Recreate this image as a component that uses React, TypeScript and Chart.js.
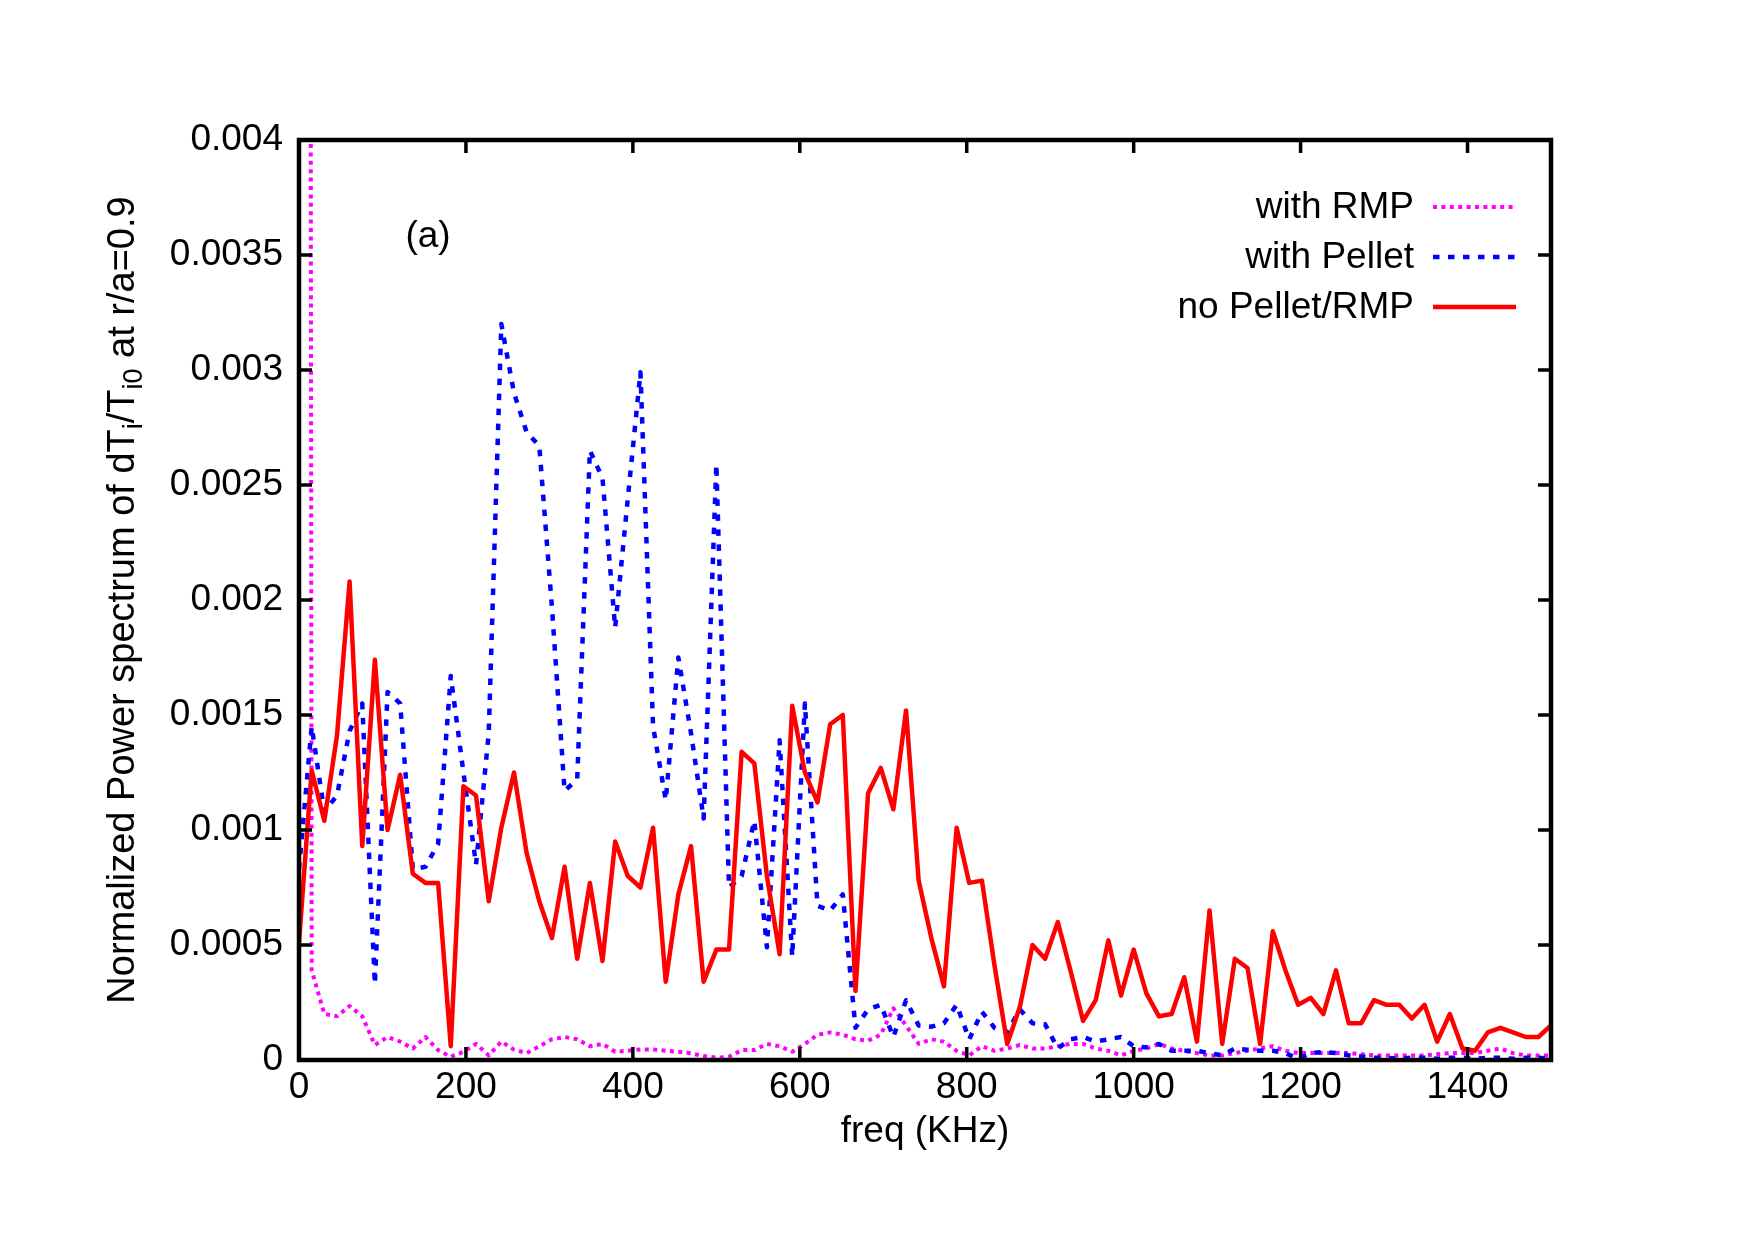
import React, { useEffect, useRef } from 'react';
import { Chart, registerables } from 'chart.js';

Chart.register(...registerables);

// ---------- data ----------
const freq = [
  0, 15.2, 30.3, 45.5, 60.6, 75.8, 90.9, 106.1, 121.2, 136.4,
  151.5, 166.7, 181.8, 197.0, 212.1, 227.3, 242.4, 257.6, 272.7, 287.9,
  303.0, 318.2, 333.3, 348.5, 363.6, 378.8, 393.9, 409.1, 424.2, 439.4,
  454.5, 469.7, 484.8, 500.0, 515.2, 530.3, 545.5, 560.6, 575.8, 590.9,
  606.1, 621.2, 636.4, 651.5, 666.7, 681.8, 697.0, 712.1, 727.3, 742.4,
  757.6, 772.7, 787.9, 803.0, 818.2, 833.3, 848.5, 863.6, 878.8, 893.9,
  909.1, 924.2, 939.4, 954.5, 969.7, 984.8, 1000.0, 1015.2, 1030.3, 1045.5,
  1060.6, 1075.8, 1090.9, 1106.1, 1121.2, 1136.4, 1151.5, 1166.7, 1181.8, 1197.0,
  1212.1, 1227.3, 1242.4, 1257.6, 1272.7, 1287.9, 1303.0, 1318.2, 1333.3, 1348.5,
  1363.6, 1378.8, 1393.9, 1409.1, 1424.2, 1439.4, 1454.5, 1469.7, 1484.8, 1500.0,
];

const withRMP = [
  0.05, 0.00039, 0.00020, 0.00019, 0.000235, 0.00019, 0.000065, 0.00010, 0.00008, 0.00005,
  0.00010, 0.000043, 0.000014, 0.000036, 0.00007, 0.00002, 0.00008, 0.000045, 0.00003, 0.00006,
  0.00009, 0.00010, 0.00009, 0.00006, 0.00007, 0.000036, 0.00004, 0.000046, 0.000046, 0.00004,
  0.000036, 0.000029, 0.000017, 0.00001, 0.000014, 0.000043, 0.000043, 0.00007, 0.00006, 0.000036,
  0.00007, 0.00011, 0.00012, 0.00011, 0.00009, 0.000084, 0.00011, 0.000225, 0.00015, 0.00007,
  0.00009, 0.00008, 0.00004, 0.00002, 0.00006, 0.00004, 0.00005, 0.000065, 0.00005, 0.00005,
  0.00006, 0.00007, 0.00007, 0.00005, 0.00004, 0.00002, 0.00004, 0.00005, 0.00007, 0.00005,
  0.00004, 0.00003, 0.00002, 0.00002, 0.00003, 0.00004, 0.00005, 0.00006, 0.00004, 0.00003,
  0.00003, 0.00003, 0.00003, 0.00003, 0.000025, 0.00002, 0.00002, 0.00002, 0.00002, 0.00002,
  0.000025, 0.00003, 0.00003, 0.00003, 0.00004, 0.00005, 0.00003, 0.00002, 0.00002, 0.00002,
];

const withPellet = [
  0.00083, 0.00145, 0.00108, 0.00115, 0.00143, 0.00155, 0.00033, 0.00160, 0.00155, 0.00083,
  0.00084, 0.00094, 0.00167, 0.00125, 0.00085, 0.00142, 0.00320, 0.00290, 0.00273, 0.00267,
  0.00197, 0.00117, 0.00122, 0.00265, 0.00253, 0.00188, 0.00244, 0.00299, 0.00145, 0.00113,
  0.00175, 0.00142, 0.00105, 0.00259, 0.00075, 0.00080, 0.00104, 0.00049, 0.00139, 0.00045,
  0.00155, 0.00067, 0.00065, 0.00072, 0.00014, 0.00022, 0.00024, 0.00010, 0.00026, 0.00015,
  0.000145, 0.00016, 0.00024, 0.00009, 0.00021, 0.00014, 0.00012, 0.00022, 0.00016, 0.000155,
  0.00005, 0.00009, 0.00010, 0.00008, 0.00009, 0.00010, 0.00006, 0.000055, 0.00007, 0.00004,
  0.00004, 0.00004, 0.00003, 0.00002, 0.00005, 0.000045, 0.00004, 0.00004, 0.00003, 0.000005,
  0.00003, 0.000035, 0.00003, 0.00002, 0.000015, 0.00001, 0.00001, 0.000005, 0.00001, 0.00001,
  0.000005, 0.00001, 0.00001, 0.000005, 0.00001, 0.00001, 0.000005, 0.00001, 0.00001, 0.000005,
];

const noPelletRMP = [
  0.00051, 0.00126, 0.00104, 0.00141, 0.00208, 0.00093, 0.00174, 0.00100, 0.00124, 0.00081,
  0.00077, 0.00077, 0.00006, 0.00119, 0.00115, 0.00069, 0.00101, 0.00125, 0.00090, 0.00069,
  0.00053, 0.00084, 0.00044, 0.00077, 0.00043, 0.00095, 0.00080, 0.00075, 0.00101, 0.00034,
  0.00072, 0.00093, 0.00034, 0.00048, 0.00048, 0.00134, 0.00129, 0.00080, 0.00046, 0.00154,
  0.00125, 0.00112, 0.00146, 0.00150, 0.00030, 0.00116, 0.00127, 0.00109, 0.00152, 0.00078,
  0.00053, 0.00032, 0.00101, 0.00077, 0.00078, 0.00041, 0.00007, 0.00023, 0.00050, 0.00044,
  0.00060, 0.00039, 0.00017, 0.00026, 0.00052, 0.00028, 0.00048, 0.00029, 0.00019, 0.00020,
  0.00036, 0.00008, 0.00065, 0.00007, 0.00044, 0.00040, 0.00007, 0.00056, 0.00039, 0.00024,
  0.00027, 0.00020, 0.00039, 0.00016, 0.00016, 0.00026, 0.00024, 0.00024, 0.00018, 0.00024,
  0.00008, 0.00020, 0.00005, 0.00004, 0.00012, 0.00014, 0.00012, 0.00010, 0.00010, 0.00015,
];

const seriesLabels = ['with RMP', 'with Pellet', 'no Pellet/RMP'];

const xTickValues = [0, 200, 400, 600, 800, 1000, 1200, 1400];
const xTickLabels = ['0', '200', '400', '600', '800', '1000', '1200', '1400'];
const yTickValues = [0, 0.0005, 0.001, 0.0015, 0.002, 0.0025, 0.003, 0.0035, 0.004];
const yTickLabels = ['0', '0.0005', '0.001', '0.0015', '0.002', '0.0025', '0.003', '0.0035', '0.004'];

const xTitle = 'freq (KHz)';
const panelLabel = '(a)';
// y-axis title pieces: [text, isSubscript]
const yTitleParts: [string, boolean][] = [
  ['Normalized Power spectrum of dT', false],
  ['i', true],
  ['/T', false],
  ['i0', true],
  [' at r/a=0.9', false],
];

// ---------- styles ----------
const FONT_FAMILY = '"Liberation Sans", Arial, Helvetica, sans-serif';
const FONT_SIZE = 37;
const YTITLE_SIZE = 38;
const SUB_SIZE = 27;
const COLORS = ['#ff00ff', '#0000ff', '#ff0000'];
const WIDTHS = [4, 4.5, 4.5];
const DASHES: number[][] = [[4, 4.4], [6.5, 8.5], []];

const toPoints = (ys: number[]) => ys.map((y, i) => ({ x: freq[i], y }));

const gnuplotDecor = {
  id: 'gnuplotDecor',
  afterDatasetsDraw(chart: any) {
    const { ctx, chartArea: a, scales } = chart;
    const xs = scales.x;
    const ys = scales.y;
    ctx.save();
    ctx.setLineDash([]);
    ctx.strokeStyle = '#000';
    ctx.fillStyle = '#000';

    // inward tick marks on all four sides
    ctx.lineWidth = 3.5;
    ctx.lineCap = 'butt';
    ctx.beginPath();
    for (const t of xs.ticks) {
      const px = xs.getPixelForValue(t.value);
      ctx.moveTo(px, a.bottom);
      ctx.lineTo(px, a.bottom - 13);
      ctx.moveTo(px, a.top);
      ctx.lineTo(px, a.top + 13);
    }
    for (const t of ys.ticks) {
      const py = ys.getPixelForValue(t.value);
      ctx.moveTo(a.left, py);
      ctx.lineTo(a.left + 13, py);
      ctx.moveTo(a.right, py);
      ctx.lineTo(a.right - 13, py);
    }
    ctx.stroke();

    // frame
    ctx.lineWidth = 4.5;
    ctx.lineJoin = 'miter';
    ctx.strokeRect(a.left, a.top, a.right - a.left, a.bottom - a.top);

    // panel label
    ctx.font = `${FONT_SIZE}px ${FONT_FAMILY}`;
    ctx.textAlign = 'center';
    ctx.textBaseline = 'middle';
    ctx.fillText(panelLabel, a.left + 129, a.top + 97);

    // legend (gnuplot style: text right-aligned, sample on the right)
    const datasets = chart.data.datasets;
    ctx.textAlign = 'right';
    for (let i = 0; i < datasets.length; i++) {
      const ds = datasets[i];
      const rowY = a.top + 67 + i * 50;
      ctx.fillStyle = '#000';
      ctx.fillText(ds.label, a.right - 137, rowY + 1);
      ctx.strokeStyle = ds.borderColor;
      ctx.lineWidth = ds.borderWidth;
      ctx.setLineDash(ds.borderDash || []);
      ctx.beginPath();
      ctx.moveTo(a.right - 118, rowY);
      ctx.lineTo(a.right - 35, rowY);
      ctx.stroke();
    }
    ctx.setLineDash([]);

    // rotated y-axis title with subscripts
    const mainFont = `${YTITLE_SIZE}px ${FONT_FAMILY}`;
    const subFont = `${SUB_SIZE}px ${FONT_FAMILY}`;
    let total = 0;
    const widths = yTitleParts.map(([t, sub]) => {
      ctx.font = sub ? subFont : mainFont;
      const w = ctx.measureText(t).width;
      total += w;
      return w;
    });
    ctx.save();
    ctx.translate(134, (a.top + a.bottom) / 2);
    ctx.rotate(-Math.PI / 2);
    ctx.textAlign = 'left';
    ctx.textBaseline = 'alphabetic';
    ctx.fillStyle = '#000';
    let u = -total / 2;
    yTitleParts.forEach(([t, sub], i) => {
      ctx.font = sub ? subFont : mainFont;
      ctx.fillText(t, u, sub ? 8 : 0);
      u += widths[i];
    });
    ctx.restore();

    ctx.restore();
  },
};

export default function App() {
  const ref = useRef<HTMLCanvasElement | null>(null);

  useEffect(() => {
    const canvas = ref.current;
    if (!canvas) return;
    const font = { family: FONT_FAMILY, size: FONT_SIZE };
    const seriesData = [withRMP, withPellet, noPelletRMP];
    const chart = new Chart(canvas, {
      type: 'line',
      data: {
        datasets: seriesData.map((ys, i) => ({
          label: seriesLabels[i],
          data: toPoints(ys),
          borderColor: COLORS[i],
          backgroundColor: COLORS[i],
          borderWidth: WIDTHS[i],
          borderDash: DASHES[i],
          borderCapStyle: 'butt',
          borderJoinStyle: 'round',
          pointRadius: 0,
          pointHoverRadius: 0,
          tension: 0,
          fill: false,
          clip: 0,
          order: 2 - i,
        })),
      },
      options: {
        animation: false,
        responsive: false,
        devicePixelRatio: 1,
        events: [],
        layout: { padding: { left: 0, top: 140, right: 204, bottom: 0 } },
        plugins: {
          legend: { display: false },
          tooltip: { enabled: false },
          title: { display: false },
        },
        scales: {
          x: {
            type: 'linear',
            min: 0,
            max: 1500,
            afterBuildTicks: (s: any) => {
              s.ticks = xTickValues.map((v) => ({ value: v }));
            },
            afterFit: (s: any) => {
              s.height = 180;
            },
            grid: { display: false, drawTicks: false },
            border: { display: false },
            ticks: {
              color: '#000',
              font,
              padding: 6,
              maxRotation: 0,
              autoSkip: false,
              callback: (_v: any, i: number) => xTickLabels[i],
            },
            title: {
              display: true,
              text: xTitle,
              color: '#000',
              font,
              padding: { top: 0, bottom: 86 },
            },
          },
          y: {
            type: 'linear',
            min: 0,
            max: 0.004,
            afterBuildTicks: (s: any) => {
              s.ticks = yTickValues.map((v) => ({ value: v }));
            },
            afterFit: (s: any) => {
              s.width = 299;
            },
            grid: { display: false, drawTicks: false },
            border: { display: false },
            ticks: {
              color: '#000',
              font,
              padding: 16,
              autoSkip: false,
              callback: (_v: any, i: number) => yTickLabels[i],
            },
          },
        },
      },
      plugins: [gnuplotDecor],
    } as any);
    return () => chart.destroy();
  }, []);

  return (
    <div style={{ position: 'absolute', left: 0, top: 0, width: 1755, height: 1240, background: '#fff' }}>
      <canvas ref={ref} width={1755} height={1240} style={{ display: 'block', width: 1755, height: 1240 }} />
    </div>
  );
}
